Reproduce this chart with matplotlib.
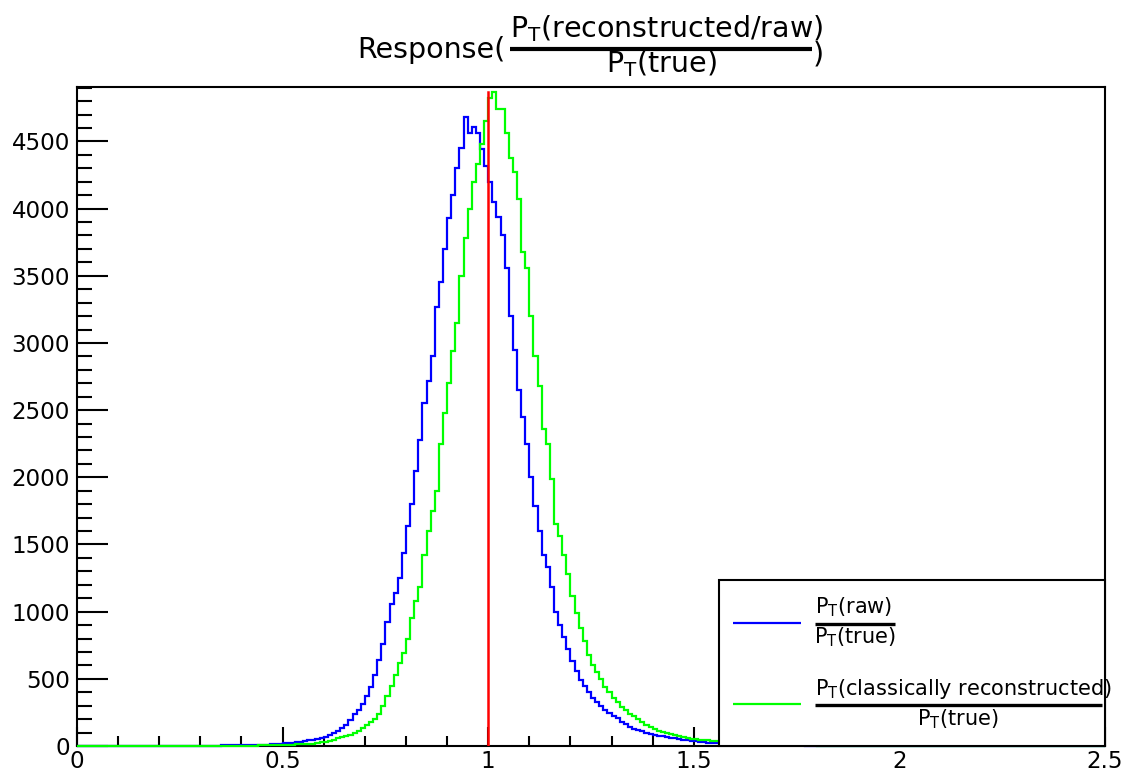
import numpy as np
import matplotlib
matplotlib.use("Agg")
import matplotlib.pyplot as plt
from matplotlib.lines import Line2D
from matplotlib.patches import Rectangle

plt.rcParams['font.family'] = ['DejaVu Sans']
plt.rcParams['mathtext.fontset'] = 'dejavusans'

# ---- histogram data -------------------------------------------------------
range_lo, range_hi = 0.0, 2.5
bin_width = 0.01
data_lo = 0.30  # first filled bin edge; everything outside is empty

# pT(raw) / pT(true)
raw_counts = [
    2, 2, 3, 3, 3, 4, 4, 5, 5, 6,
    6, 7, 7, 8, 9, 10, 11, 13, 15, 17,
    19, 22, 25, 29, 33, 37, 41, 45, 50, 58,
    66, 80, 97, 115, 135, 160, 190, 240, 270, 310,
    370, 440, 530, 640, 760, 920, 1060, 1140, 1250, 1440,
    1640, 1800, 2050, 2280, 2550, 2720, 2900, 3270, 3450, 3700,
    3930, 4100, 4300, 4450, 4680, 4560, 4610, 4560, 4440, 4320,
    4200, 4050, 3940, 3800, 3560, 3200, 2950, 2650, 2450, 2250,
    2000, 1790, 1600, 1420, 1330, 1180, 1000, 900, 810, 720,
    630, 560, 490, 450, 400, 360, 330, 300, 270, 245,
    220, 205, 180, 165, 145, 130, 120, 110, 100, 90,
    82, 78, 72, 66, 60, 56, 50, 46, 42, 38,
    35, 32, 29, 26, 23, 21, 19, 17, 15, 14,
    13, 12, 11, 10, 9, 8, 8, 7, 7, 6,
    6, 5, 5, 5, 4, 4, 4, 3, 3, 3,
]

# pT(classically reconstructed) / pT(true)
reco_counts = [
    0, 0, 1, 1, 1, 1, 1, 2, 2, 2,
    2, 3, 3, 3, 4, 4, 5, 6, 7, 8,
    9, 10, 11, 12, 13, 14, 15, 18, 22, 27,
    32, 38, 46, 58, 66, 75, 85, 100, 115, 135,
    160, 180, 200, 235, 300, 370, 450, 530, 620, 690,
    800, 950, 1080, 1180, 1420, 1600, 1750, 1900, 2250, 2480,
    2700, 2940, 3150, 3500, 3780, 4000, 4200, 4330, 4480, 4650,
    4820, 4870, 4740, 4740, 4560, 4380, 4270, 4070, 3680, 3560,
    3200, 2900, 2680, 2360, 2250, 1990, 1650, 1560, 1420, 1280,
    1120, 990, 880, 780, 680, 600, 550, 500, 440, 400,
    360, 325, 290, 265, 240, 220, 200, 180, 160, 140,
    128, 115, 106, 98, 90, 82, 72, 66, 60, 55,
    50, 47, 44, 41, 39, 37, 35, 32, 29, 26,
    24, 22, 20, 18, 16, 15, 14, 12, 11, 10,
    9, 8, 8, 7, 6, 6, 5, 5, 5, 4,
]

x_major = [0, 0.5, 1, 1.5, 2, 2.5]
x_major_labels = ["0", "0.5", "1", "1.5", "2", "2.5"]
y_major = [0, 500, 1000, 1500, 2000, 2500, 3000, 3500, 4000, 4500]
y_top = 4905
reference_ratio = 1.0

# ---- figure ---------------------------------------------------------------
W, H = 1128, 776
fig = plt.figure(figsize=(W / 100, H / 100), dpi=100)
fig.patch.set_facecolor("white")

left, right, top, bottom = 77, 1105, 87, 746
ax = fig.add_axes([left / W, 1 - bottom / H, (right - left) / W, (bottom - top) / H])


def full_hist(counts):
    n = len(counts)
    inner = np.round(data_lo + bin_width * np.arange(n + 1), 6)
    edges = np.concatenate(([range_lo], inner, [range_hi]))
    vals = np.concatenate(([0.0], np.asarray(counts, float), [0.0]))
    return vals, edges


v_raw, e_raw = full_hist(raw_counts)
v_reco, e_reco = full_hist(reco_counts)
ax.stairs(v_raw, e_raw, color="#0000ff", lw=1.6, zorder=3, clip_on=False)
ax.stairs(v_reco, e_reco, color="#00ff00", lw=1.6, zorder=3.1, clip_on=False)
ax.plot([reference_ratio, reference_ratio], [0, max(reco_counts)],
        color="#ff0000", lw=1.8, zorder=4)

ax.set_xlim(range_lo, range_hi)
ax.set_ylim(0, y_top)

ax.set_xticks(x_major)
ax.set_xticklabels(x_major_labels)
ax.set_xticks(np.arange(0, 2.5001, 0.1), minor=True)
ax.set_yticks(y_major)
ax.set_yticks(np.arange(0, 4901, 100), minor=True)

ax.tick_params(axis="both", which="both", direction="in", width=1.5,
               top=False, right=False, labelsize=16.6, color="black")
ax.tick_params(axis="x", which="major", length=14, pad=3)
ax.tick_params(axis="x", which="minor", length=7)
ax.tick_params(axis="y", which="major", length=22, pad=5)
ax.tick_params(axis="y", which="minor", length=11)
for s in ax.spines.values():
    s.set_linewidth(1.5)
    s.set_zorder(2.5)


# ---- text helpers in pixel coordinates (origin top-left) ------------------
def fx(x):
    return x / W


def fy(y):
    return 1 - y / H


def ptext(x, y, s, size, ha="left", va="baseline"):
    fig.text(fx(x), fy(y), s, fontsize=size, ha=ha, va=va, zorder=6)


def pline(x0, x1, y, lw, color="black"):
    fig.add_artist(Line2D([fx(x0), fx(x1)], [fy(y), fy(y)], color=color,
                          lw=lw, solid_capstyle="butt", zorder=6))


# title: Response( pT(reconstructed/raw) / pT(true) )
ts = 20.5
ptext(505, 58, "Response(", ts, ha="right")
ptext(510, 37, r"P$_{\mathrm{T}}$(reconstructed/raw)", ts)
pline(510, 812, 48.7, 3.0)
ptext(661, 72, r"P$_{\mathrm{T}}$(true)", ts, ha="center")
ptext(813, 63, ")", ts)

# legend box
fig.add_artist(Rectangle((fx(719), fy(746)), fx(1105) - fx(719), fy(580) - fy(746),
                         facecolor="white", edgecolor="black", lw=1.5, zorder=5))
ls = 15
pline(733, 801, 622.7, 1.6, color="#0000ff")
ptext(815, 613, r"P$_{\mathrm{T}}$(raw)", ls)
pline(815, 895, 623.5, 2.4)
ptext(855, 643, r"P$_{\mathrm{T}}$(true)", ls, ha="center")

pline(733, 801, 704, 1.6, color="#00ff00")
ptext(815, 695, r"P$_{\mathrm{T}}$(classically reconstructed)", ls)
pline(815, 1102, 705, 2.4)
ptext(958, 725, r"P$_{\mathrm{T}}$(true)", ls, ha="center")

fig.savefig("out.png", dpi=100)
